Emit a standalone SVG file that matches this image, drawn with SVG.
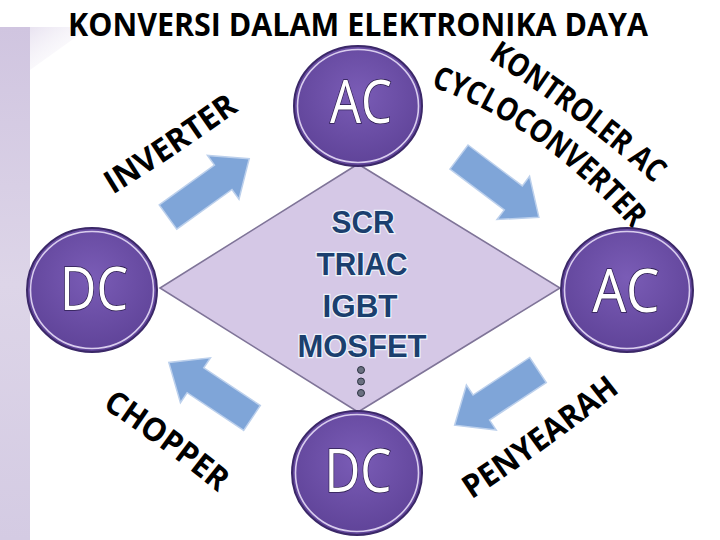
<svg xmlns="http://www.w3.org/2000/svg" xmlns:xlink="http://www.w3.org/1999/xlink" width="720" height="540" viewBox="0 0 720 540">
<defs>
<style>
.title{font-family:"Open Sans","Liberation Sans",sans-serif;font-weight:700;font-size:33px;fill:#000}
.lbl{font-family:"Open Sans","Liberation Sans",sans-serif;font-weight:700;font-size:32px;fill:#000}
.node{fill:url(#pg);stroke:#3b2868;stroke-width:2}
.ring{fill:none;stroke:#d9cdee;stroke-width:1.6}
.ntxt{font-family:"Open Sans","Liberation Sans",sans-serif;font-weight:400;font-size:60px;fill:#fff;stroke:#2a1c4c;stroke-width:1.6;paint-order:stroke;text-anchor:middle}
.dev{font-family:"Liberation Sans",Arial,sans-serif;font-weight:700;font-size:31px;fill:#1b3f6e;stroke:#eef3fb;stroke-width:2.5;paint-order:stroke;text-anchor:middle}
.arr{fill:#7fa5d8;stroke:#bcd0ec;stroke-width:1.5}
.dot{fill:#6a7080;stroke:#2c3342;stroke-width:1}
</style>
<radialGradient id="pg" cx="50%" cy="40%" r="60%">
<stop offset="0" stop-color="#7a5cb6"/>
<stop offset="1" stop-color="#5f4398"/>
</radialGradient>
<linearGradient id="strip" x1="0" y1="0" x2="0" y2="1">
<stop offset="0" stop-color="#d0c5e0"/>
<stop offset="0.5" stop-color="#ddd5e8"/>
<stop offset="1" stop-color="#d4cbe3"/>
</linearGradient>
<linearGradient id="shade" x1="0" y1="0" x2="1" y2="1">
<stop offset="0" stop-color="#e6e0ef" stop-opacity="0.9"/>
<stop offset="1" stop-color="#ffffff" stop-opacity="0"/>
</linearGradient>
<path id="arrowShape" d="M0,-15 L68,-15 L68,-27 L100,0 L68,27 L68,15 L0,15 Z"/>
<path id="pInv" d="M104,200 Q170,160 248,104"/>
<path id="pKon" d="M485,57 Q573,112 657,186"/>
<path id="pCyc" d="M426,85 Q538,121 636,233"/>
<path id="pCho" d="M100,406 Q160,445 220,494"/>
<path id="pPen" d="M466,503 Q540,455 626,387"/>
</defs>
<rect width="720" height="540" fill="#fff"/>
<g id="background">
<rect x="0" y="27" width="30" height="513" fill="url(#strip)"/>
<polygon points="30,27 90,27 30,70" fill="url(#shade)"/>
</g>
<text class="title" x="358" y="36" text-anchor="middle" textLength="580" lengthAdjust="spacingAndGlyphs">KONVERSI DALAM ELEKTRONIKA DAYA</text>
<g id="n-devices">
<polygon points="358,164 560,288 358,412 160,288" fill="#d5c8e6" stroke="#7f7498" stroke-width="1.6"/>
<text class="dev" x="363" y="233" textLength="63" lengthAdjust="spacingAndGlyphs">SCR</text>
<text class="dev" x="362" y="275" textLength="91" lengthAdjust="spacingAndGlyphs">TRIAC</text>
<text class="dev" x="360" y="317" textLength="75" lengthAdjust="spacingAndGlyphs">IGBT</text>
<text class="dev" x="362" y="357" textLength="129" lengthAdjust="spacingAndGlyphs">MOSFET</text>
<circle class="dot" cx="361" cy="370" r="3.5"/>
<circle class="dot" cx="361" cy="381.5" r="3.5"/>
<circle class="dot" cx="361" cy="393" r="3.5"/>
</g>
<g id="connectors">
<use href="#arrowShape" class="arr" transform="translate(168,217) rotate(-35.7)"/>
<use href="#arrowShape" class="arr" transform="translate(459,157) rotate(37)"/>
<use href="#arrowShape" class="arr" transform="translate(538,370) rotate(146.5)"/>
<use href="#arrowShape" class="arr" transform="translate(252,418) rotate(213.7)"/>
<text class="lbl" font-size="34"><textPath href="#pInv" startOffset="50%" text-anchor="middle" textLength="152" lengthAdjust="spacingAndGlyphs">INVERTER</textPath></text>
<text class="lbl" font-size="29"><textPath href="#pKon" startOffset="50%" text-anchor="middle" textLength="208" lengthAdjust="spacingAndGlyphs">KONTROLER AC</textPath></text>
<text class="lbl" font-size="29"><textPath href="#pCyc" startOffset="50%" text-anchor="middle" textLength="250" lengthAdjust="spacingAndGlyphs">CYCLOCONVERTER</textPath></text>
<text class="lbl" font-size="34"><textPath href="#pCho" startOffset="50%" text-anchor="middle" textLength="144" lengthAdjust="spacingAndGlyphs">CHOPPER</textPath></text>
<text class="lbl" font-size="34"><textPath href="#pPen" startOffset="50%" text-anchor="middle" textLength="184" lengthAdjust="spacingAndGlyphs">PENYEARAH</textPath></text>
</g>
<g id="n-ac-top">
<ellipse class="node" cx="358" cy="106" rx="64" ry="60"/>
<ellipse class="ring" cx="358" cy="106" rx="60.5" ry="56.5"/>
<text class="ntxt" x="361" y="123" textLength="62" lengthAdjust="spacingAndGlyphs">AC</text>
</g>
<g id="n-dc-left">
<ellipse class="node" cx="92" cy="290" rx="65" ry="62"/>
<ellipse class="ring" cx="92" cy="290" rx="61.5" ry="58.5"/>
<text class="ntxt" x="94" y="310" textLength="68" lengthAdjust="spacingAndGlyphs">DC</text>
</g>
<g id="n-ac-right">
<ellipse class="node" cx="627" cy="290" rx="66" ry="62"/>
<ellipse class="ring" cx="627" cy="290" rx="62.5" ry="58.5"/>
<text class="ntxt" x="626" y="312" textLength="67" lengthAdjust="spacingAndGlyphs">AC</text>
</g>
<g id="n-dc-bottom">
<ellipse class="node" cx="357" cy="473" rx="65" ry="62"/>
<ellipse class="ring" cx="357" cy="473" rx="61.5" ry="58.5"/>
<text class="ntxt" x="358" y="492" textLength="67" lengthAdjust="spacingAndGlyphs">DC</text>
</g>
</svg>
